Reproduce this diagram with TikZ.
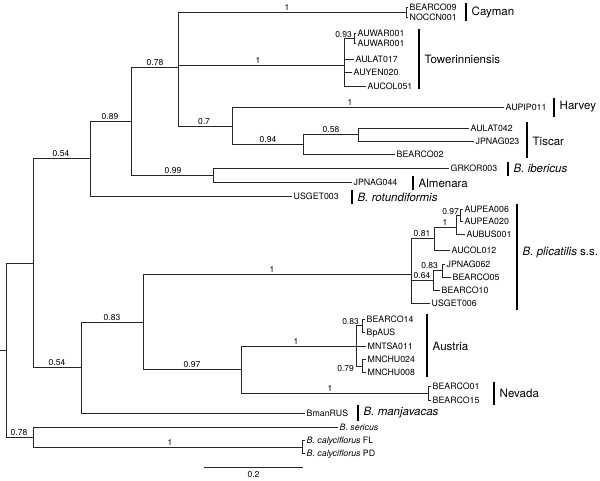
\documentclass[tikz,border=0pt]{standalone}
\usepackage{fontspec}
\setmainfont{TeX Gyre Heros}
\usepackage{tikz}
\definecolor{branchink}{RGB}{38,38,38}

\begin{document}
\begin{tikzpicture}[x=1pt,y=-1pt,line cap=rect,
  edge/.style={draw=branchink,line width=0.9pt},
  bar/.style={draw=black,line width=1.5pt,line cap=butt},
  tip/.style={anchor=west,inner sep=1.5pt,text height=6.2pt,text depth=0pt,font=\fontsize{8.8}{10}\selectfont},
  supp/.style={anchor=south,inner sep=1pt,text height=6pt,text depth=0pt,font=\fontsize{8.5}{10}\selectfont},
  clade/.style={anchor=west,inner sep=0pt,font=\fontsize{11.5}{13}\selectfont}]
  \useasboundingbox (0,0) rectangle (600,480);
  % internal nodes (pixel positions of the figure)
  \foreach \n/\x/\y in {root/6/350,a/33/263,b/90/158,c/131/121,d/178/67,cay/406/12,
      tow/344/65,war/354/38,f/232/126,g/303/144,h/358/134.5,e/213/175,
      i/81/367,j/143/322,k/411/274,n/434/238,o/456/227,pea/460/215,q/433/280,
      jb/442/270,l/241/369,aus/356/346,ausb/362/325,chu/362/366,nev/428/393,
      s/33/437,cal/302/447}
    \coordinate (\n) at (\x,\y);
  \coordinate (stub) at (0,350);
  % tips
  \foreach \n/\x/\y/\t in {bearco09/408/7/BEARCO09,noccn001/408/17/NOCCN001,
      war1/356/33/AUWAR001,war2/356/43/AUWAR001,aulat017/354/59/AULAT017,
      auyen020/352/72/AUYEN020,aucol051/366/86/AUCOL051,aupip011/504/107/AUPIP011,
      aulat042/469/128/AULAT042,jpnag023/474/141/JPNAG023,bearco02/395/154/BEARCO02,
      grkor003/449/168/GRKOR003,jpnag044/352/182/JPNAG044,usget003/292/196/USGET003,
      aupea006/463/209/AUPEA006,aupea020/463/221/AUPEA020,aubus001/465/234/AUBUS001,
      aucol012/450/250/AUCOL012,jpnag062/445/264/JPNAG062,bearco05/451/277/BEARCO05,
      bearco10/440/290/BEARCO10,usget006/430/303/USGET006,
      bearco14/365/319/BEARCO14,bpaus/365/332/BpAUS,mntsa011/366/346/MNTSA011,
      mnchu024/366/359/MNCHU024,mnchu008/366/372/MNCHU008,
      bearco01/431/386/BEARCO01,bearco15/431/400/BEARCO15,bmanrus/305/413/BmanRUS,
      sericus/338/427/{\textit{B. sericus}},
      calfl/305/440/{\textit{B. calyciflorus} FL},calpd/305/453/{\textit{B. calyciflorus} PD}}
    \node[tip] (\n) at (\x,\y) {\t};
  % branches
  \draw[edge] (stub) -- (root);
  \foreach \p/\c in {root/a,root/s,a/b,a/i,b/c,b/usget003,c/d,c/e,d/cay,d/tow,d/f,
      cay/bearco09,cay/noccn001,tow/war,tow/aulat017,tow/auyen020,tow/aucol051,
      war/war1,war/war2,f/aupip011,f/g,g/h,g/bearco02,h/aulat042,h/jpnag023,
      e/grkor003,e/jpnag044,i/j,i/bmanrus,j/k,j/l,k/n,k/q,k/usget006,n/o,n/aucol012,
      o/pea,o/aubus001,pea/aupea006,pea/aupea020,q/jb,q/bearco10,jb/jpnag062,jb/bearco05,
      l/aus,l/nev,aus/ausb,aus/mntsa011,aus/chu,ausb/bearco14,ausb/bpaus,
      chu/mnchu024,chu/mnchu008,nev/bearco01,nev/bearco15,s/sericus,s/cal,cal/calfl,cal/calpd}
    \draw[edge] (\p) |- (\c);
  % support values above the branches
  \foreach \n/\x/\y/\t in {sb/61/157.5/0.54,sc/110/120.5/0.89,sd/155/66.5/0.78,
      scay/287/11.5/1,stow/258/64.5/1,sf/204/125.5/0.7,sharv/350/106.5/1,sg/268/143.5/0.94,
      sh/331/134/0.58,se/173/174.5/0.99,si/57/366.5/0.54,sj/112/321.5/0.83,sk/272/273.5/1,
      sn/422/237.5/0.81,so/445/226.5/1,sq/422/279.5/0.64,sl/192/368.5/0.97,saus/296/345.5/1,
      snev/330/392.5/1,ss/19/436.5/0.78,scal/170/446.5/1}
    \node[supp] (\n) at (\x,\y) {\t};
  \node[supp,anchor=south east] (swar) at (353,38.5) {0.93};
  \node[supp,anchor=south east] (spea) at (460,215.5) {0.97};
  \node[supp,anchor=south east] (sjb) at (439,269.5) {0.83};
  \node[supp,anchor=south east] (sausb) at (360,325.5) {0.83};
  \node[supp,anchor=east] (schu) at (355,368) {0.79};
  % clade bars and names
  \foreach \n/\x/\ya/\yb/\yl/\t in {cayman/466/3/21/12/Cayman,
      tower/419/29/89/59/Towerinniensis,harvey/554/98/117/107/Harvey,
      tiscar/527/122/158/141/Tiscar,iber/508/162/176/168/{\textit{B. ibericus}},
      almen/413/176/190/183/Almenara,rotund/352/190/204/197/{\textit{B. rotundiformis}},
      plic/517/204/310/253/{\textit{B. plicatilis} s.s.},austria/427/314/377/346/Austria,
      nevada/494/382/405/393/Nevada,manj/358/405/421/413/{\textit{B. manjavacas}}}{
    \draw[bar] (\x,\ya) -- (\x,\yb);
    \node[clade] (\n) at ({\x+5.5},\yl) {\t};
  }
  % scale bar
  \coordinate (sbl) at (204,467);
  \coordinate (sbr) at (303,467);
  \draw[edge,line cap=butt] (sbl) -- (sbr);
  \node[supp,anchor=north] (sblab) at (253.5,470) {0.2};
\end{tikzpicture}
\end{document}
